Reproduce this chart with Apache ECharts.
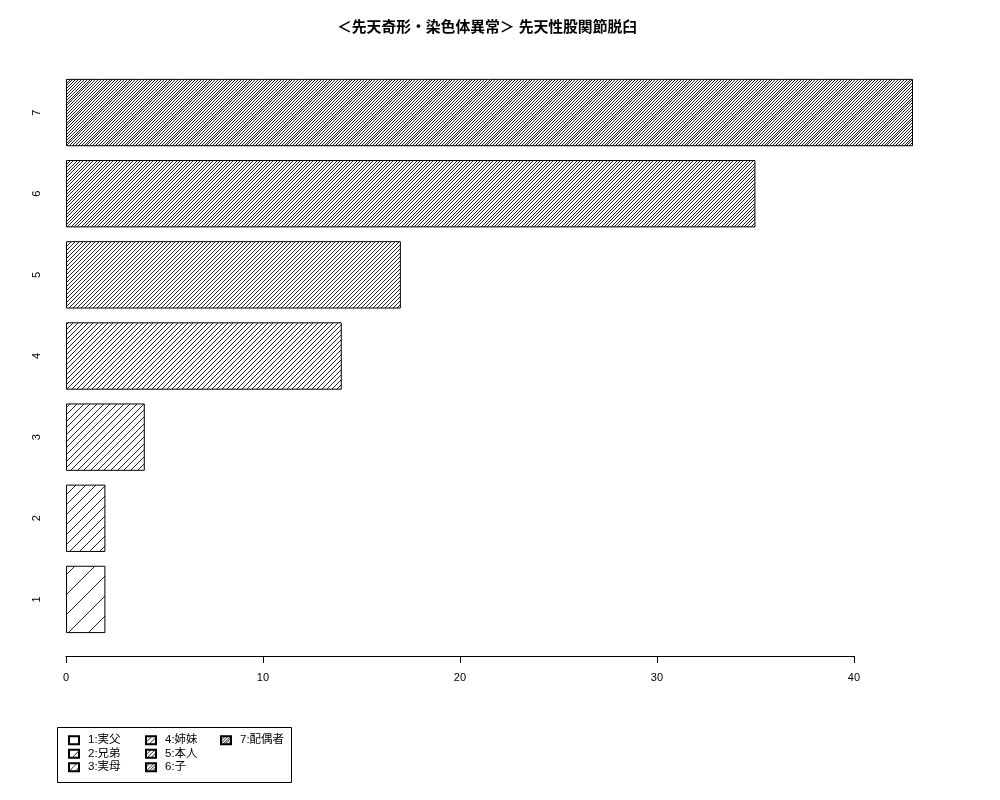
<!DOCTYPE html>
<html>
<head>
<meta charset="utf-8">
<script src="https://cdn.jsdelivr.net/npm/echarts@6/dist/echarts.min.js"></script>
<style>
html,body{margin:0;padding:0;background:#fff;}
#chart{width:1000px;height:800px;}
</style>
</head>
<body>
<div id="chart"></div>
<script>
// ---- data ----
const titleText = '＜先天奇形・染色体異常＞ 先天性股関節脱臼';
const categories = ['1', '2', '3', '4', '5', '6', '7'];
const values = [2, 2, 4, 14, 17, 35, 43];
const legendLabels = ['1:実父', '2:兄弟', '3:実母', '4:姉妹', '5:本人', '6:子', '7:配偶者'];
const xTickMax = 40;
const xTickStep = 10;

// ---- style ----
const hatchDensity = [5, 10, 15, 20, 25, 30, 35]; // lines per inch (72 dpi)
const FONT = '"Liberation Sans", "Noto Sans CJK JP", sans-serif';

function makePattern(density) {
  const T = 60;
  const horiz = 72 / density * Math.SQRT2;
  const n = Math.max(1, Math.round(T / horiz));
  const on = new Set();
  for (let k = 0; k < n; k++) on.add(Math.round(k * T / n) % T);
  const c = document.createElement('canvas');
  c.width = T; c.height = T;
  const ctx = c.getContext('2d');
  const img = ctx.createImageData(T, T);
  for (let y = 0; y < T; y++) {
    for (let x = 0; x < T; x++) {
      const idx = (y * T + x) * 4;
      const black = on.has((x + y) % T);
      const v = black ? 34 : 255;
      img.data[idx] = v; img.data[idx + 1] = v; img.data[idx + 2] = v; img.data[idx + 3] = 255;
    }
  }
  ctx.putImageData(img, 0, 0);
  return c;
}

const dataMax = Math.max(...values);
const gridLeft = 66, gridRight = 87;
const plotWidth = 1000 - gridLeft - gridRight;
const axisWidth = plotWidth * xTickMax / dataMax;

const series = categories.map((c, i) => ({
  name: legendLabels[i],
  type: 'bar',
  stack: 'all',
  xAxisIndex: 0,
  yAxisIndex: 0,
  barCategoryGap: '17%',
  silent: true,
  itemStyle: {
    color: { image: makePattern(hatchDensity[i]), repeat: 'repeat' },
    borderColor: '#000',
    borderWidth: 1
  },
  data: categories.map((cc, j) => (j === i ? values[i] : '-'))
}));

const legendCommon = {
  orient: 'vertical',
  top: 734,
  padding: 0,
  itemWidth: 10,
  itemHeight: 8,
  itemGap: 1,
  icon: 'rect',
  selectedMode: false,
  textStyle: { fontFamily: FONT, fontSize: 11.5, color: '#000', lineHeight: 12.5, padding: [0, 0, 0, 4] }
};

const option = {
  animation: false,
  backgroundColor: '#fff',
  textStyle: { fontFamily: FONT },
  title: {
    text: titleText,
    left: 337,
    top: 21,
    padding: 0,
    textStyle: { fontFamily: FONT, fontSize: 14.8, fontWeight: 'bold', color: '#000' }
  },
  legend: [
    Object.assign({}, legendCommon, { left: 68, data: legendLabels.slice(0, 3) }),
    Object.assign({}, legendCommon, { left: 145, data: legendLabels.slice(3, 6) }),
    Object.assign({}, legendCommon, { left: 220, data: legendLabels.slice(6, 7) })
  ],
  graphic: [{
    type: 'rect',
    shape: { x: 57.5, y: 727.5, width: 234, height: 55 },
    style: { fill: 'none', stroke: '#000', lineWidth: 1 },
    silent: true
  }],
  grid: [
    { left: gridLeft, right: gridRight, top: 72, height: 568 },
    { left: gridLeft, width: axisWidth, top: 72, height: 584 }
  ],
  xAxis: [
    { type: 'value', gridIndex: 0, min: 0, max: dataMax, show: false },
    {
      type: 'value', gridIndex: 1, min: 0, max: xTickMax, interval: xTickStep,
      axisLine: { show: true, lineStyle: { color: '#000', width: 1 } },
      axisTick: { show: true, length: 7, lineStyle: { color: '#000' } },
      splitLine: { show: false },
      axisLabel: { color: '#000', fontSize: 11, margin: 16, fontFamily: FONT }
    }
  ],
  yAxis: [
    {
      type: 'category', gridIndex: 0, data: categories,
      axisLine: { show: false }, axisTick: { show: false }, splitLine: { show: false },
      axisLabel: { rotate: 90, color: '#000', fontSize: 11, margin: 24, fontFamily: FONT }
    },
    { type: 'value', gridIndex: 1, show: false }
  ],
  series: series
};

const chart = echarts.init(document.getElementById('chart'), null, { renderer: 'canvas' });
chart.setOption(option);
</script>
</body>
</html>
